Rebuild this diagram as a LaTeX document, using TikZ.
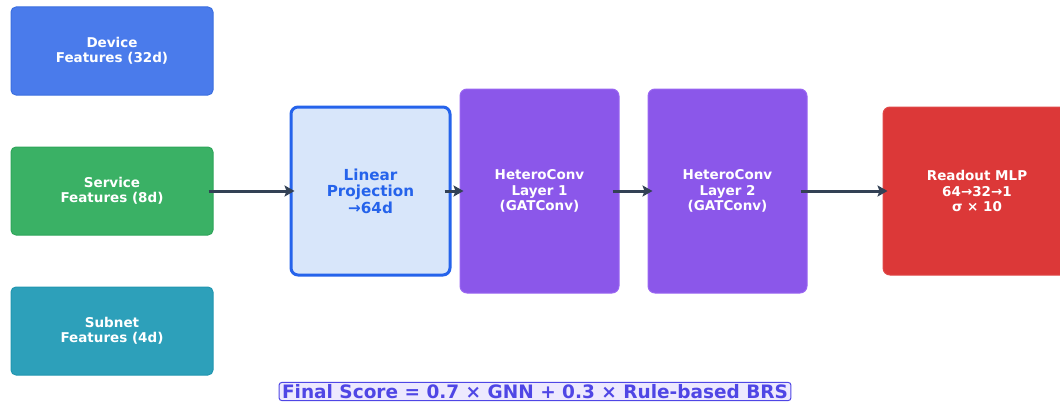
\documentclass[tikz,border=0pt]{standalone}
\usepackage{fontspec}
\setmainfont{DejaVu Sans}
\usetikzlibrary{arrows.meta}
\definecolor{devfill}{HTML}{4A7BEB}
\definecolor{devline}{HTML}{3B6FE0}
\definecolor{svcfill}{HTML}{3AB165}
\definecolor{svcline}{HTML}{2EA55A}
\definecolor{subfill}{HTML}{2DA0BA}
\definecolor{subline}{HTML}{2196B0}
\definecolor{linfill}{HTML}{D8E6FA}
\definecolor{linline}{HTML}{2563EB}
\definecolor{hetfill}{HTML}{8B57EA}
\definecolor{hetline}{HTML}{9A66F2}
\definecolor{redfill}{HTML}{DC3838}
\definecolor{redline}{HTML}{E04848}
\definecolor{arrowc}{HTML}{334155}
\definecolor{scoretext}{HTML}{4F46E5}
\definecolor{scorefill}{HTML}{EDE9FE}
\tikzset{
  box/.style={rectangle, rounded corners=5pt, line width=1pt, align=center,
    inner sep=0pt, text=white, font=\bfseries\fontsize{13.5}{15.5}\selectfont},
  inbox/.style={box, minimum width=202pt, minimum height=88pt},
  bigbox/.style={box, minimum width=159pt, rounded corners=7pt},
  flow/.style={draw=arrowc, line width=3pt, -{Stealth[length=10pt,width=11pt,inset=2pt]}},
}
\begin{document}
\begin{tikzpicture}[x=1pt,y=-1pt]
\useasboundingbox (0,0) rectangle (1060,404);
\begin{scope}
\clip (0,0) rectangle (1060,404);
% input feature boxes
\node[inbox, fill=devfill, draw=devline] (device) at (112,51) {Device\\Features (32d)};
\node[inbox, fill=svcfill, draw=svcline] (service) at (112,191) {Service\\Features (8d)};
\node[inbox, fill=subfill, draw=subline] (subnet) at (112,331) {Subnet\\Features (4d)};
% projection
\node[bigbox, minimum height=168pt, fill=linfill, draw=linline, line width=3pt,
  text=linline, font=\bfseries\fontsize{15.2}{16.5}\selectfont] (linear) at (370.5,191)
  {Linear\\Projection\\→64d};
% message passing layers
\node[bigbox, minimum height=204pt, fill=hetfill, draw=hetline] (het1) at (539.5,191)
  {HeteroConv\\Layer 1\\(GATConv)};
\node[bigbox, minimum height=204pt, fill=hetfill, draw=hetline] (het2) at (727.5,191)
  {HeteroConv\\Layer 2\\(GATConv)};
% readout
\node[box, minimum width=200pt, minimum height=168pt, rounded corners=7pt,
  fill=redfill, draw=redline] (readout) at (983,191) {};
\node[font=\bfseries\fontsize{13.5}{15.5}\selectfont, text=white, align=center]
  (readtext) at (977,191) {Readout MLP\\64→32→1\\σ × 10};
% connectors
\draw[flow] ([xshift=-5pt]service.east) -- ([xshift=5pt]linear.west);
\draw[flow] ([xshift=-7pt]linear.east) -- ([xshift=4pt]het1.west);
\draw[flow] ([xshift=-7pt]het1.east) -- ([xshift=5pt]het2.west);
\draw[flow] ([xshift=-7pt]het2.east) -- ([xshift=5pt]readout.west);
% combined score
\node[rectangle, rounded corners=3pt, fill=scorefill, draw=scoretext, line width=1pt,
  text=scoretext, inner xsep=3pt, inner ysep=2pt,
  font=\bfseries\fontsize{18.5}{20}\selectfont] (score) at (535,391.5)
  {Final Score = 0.7 × GNN + 0.3 × Rule-based BRS};
\end{scope}
\end{tikzpicture}
\end{document}
